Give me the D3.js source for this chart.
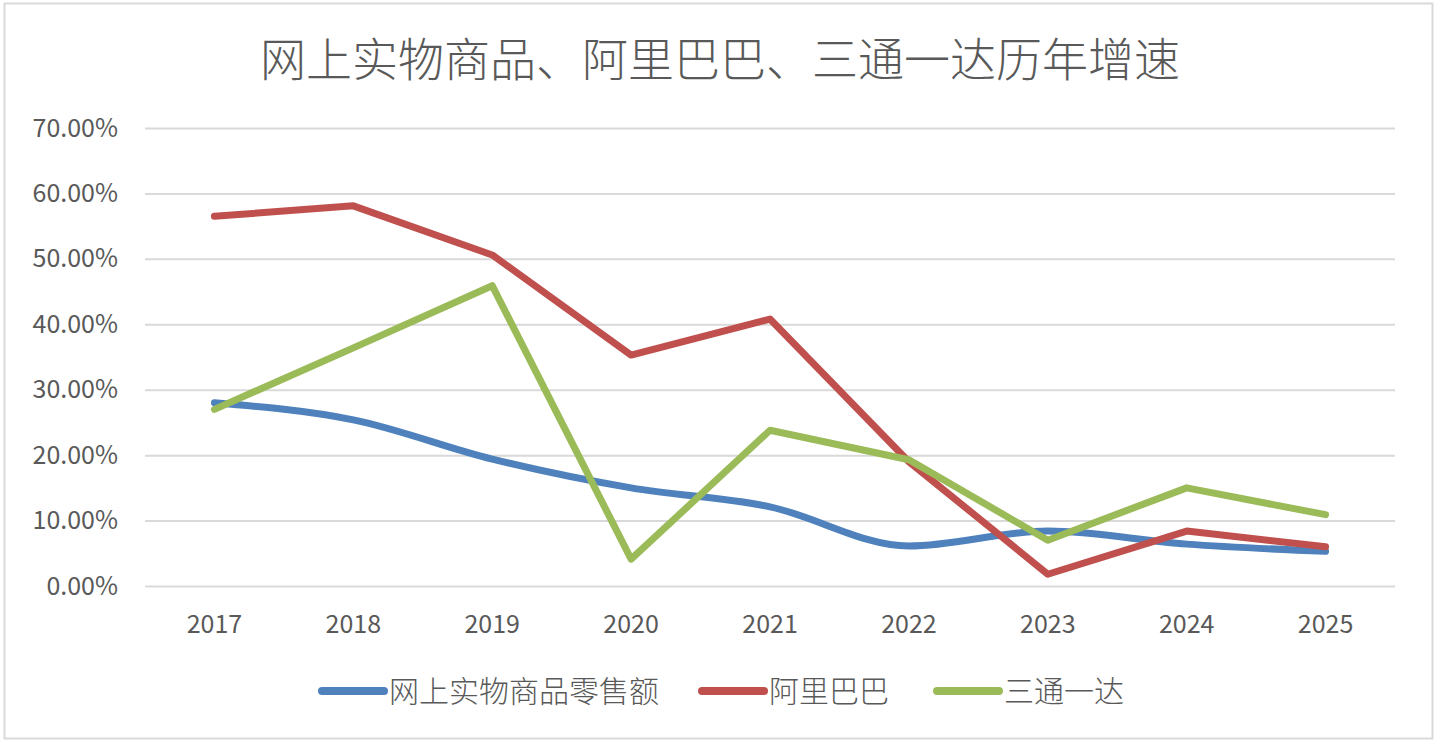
<!DOCTYPE html>
<html>
<head>
<meta charset="utf-8">
<script src="https://cdn.jsdelivr.net/npm/d3@7"></script>
<style>
  html, body { margin: 0; padding: 0; background: #fff; }
  svg text { font-family: "Noto Sans CJK SC", "Noto Sans", sans-serif; fill: #595959; }
</style>
</head>
<body>
<div id="chart"></div>
<script>
// data
const years = ["2017", "2018", "2019", "2020", "2021", "2022", "2023", "2024", "2025"];
const seriesNames = ["网上实物商品零售额", "阿里巴巴", "三通一达"];
const onlineRetail = [0.280, 0.254, 0.194, 0.150, 0.121, 0.061, 0.084, 0.064, 0.053];
const alibaba = [0.565, 0.581, 0.506, 0.353, 0.408, 0.190, 0.018, 0.084, 0.060];
const tongda = [0.270, 0.364, 0.459, 0.041, 0.238, 0.193, 0.070, 0.150, 0.109];
const yTicks = [0, 0.1, 0.2, 0.3, 0.4, 0.5, 0.6, 0.7];
const title = "网上实物商品、阿里巴巴、三通一达历年增速";

const colors = ["#4F81BD", "#C0504D", "#9BBB59"];
const allSeries = [onlineRetail, alibaba, tongda];

const w = 1440, h = 744;
const plotL = 145, plotR = 1395, plotT = 128, plotB = 586;

const svg = d3.select("#chart")
              .append("svg")
              .attr("width", w)
              .attr("height", h);

// outer frame
svg.append("rect")
   .attr("x", 4.5).attr("y", 3.5)
   .attr("width", 1428).attr("height", 735)
   .attr("fill", "#fff")
   .attr("stroke", "#D9D9D9")
   .attr("stroke-width", 2);

svg.append("text")
   .attr("x", 720).attr("y", 76)
   .attr("text-anchor", "middle")
   .style("font-size", "46px")
   .style("font-weight", 300)
   .text(title);

const xScale = d3.scaleBand()
                 .domain(years)
                 .range([plotL, plotR]);

const yScale = d3.scaleLinear()
                 .domain([0, 0.7])
                 .range([plotB, plotT]);

// gridlines + y labels
const yAxis = d3.axisLeft(yScale)
                .tickValues(yTicks)
                .tickFormat(d3.format(".2%"))
                .tickSize(-(plotR - plotL))
                .tickPadding(27);
const gy = svg.append("g")
              .attr("transform", "translate(" + plotL + ",0)")
              .call(yAxis);
gy.select(".domain").remove();
gy.selectAll(".tick line").attr("stroke", "#D9D9D9").attr("stroke-width", 2);
gy.selectAll(".tick text").style("font-size", "25px").attr("fill", "#595959");

// x labels
const xAxis = d3.axisBottom(xScale).tickSize(0).tickPadding(29);
const gx = svg.append("g")
              .attr("transform", "translate(0," + plotB + ")")
              .call(xAxis);
gx.select(".domain").remove();
gx.selectAll(".tick text").style("font-size", "25px").attr("fill", "#595959");

// lines
const cx = (d, i) => xScale(years[i]) + xScale.bandwidth() / 2;
allSeries.forEach((vals, k) => {
  const line = d3.line()
                 .x((d, i) => cx(d, i))
                 .y(d => yScale(d))
                 .curve(k === 0 ? d3.curveMonotoneX : d3.curveLinear);
  svg.append("path")
     .datum(vals)
     .attr("fill", "none")
     .attr("stroke", colors[k])
     .attr("stroke-width", 7)
     .attr("stroke-linejoin", "round")
     .attr("stroke-linecap", "round")
     .attr("d", line);
});

// legend
const legendX = [322, 702, 937];
const legend = svg.append("g");
seriesNames.forEach((name, k) => {
  legend.append("line")
        .attr("x1", legendX[k]).attr("x2", legendX[k] + 62)
        .attr("y1", 691).attr("y2", 691)
        .attr("stroke", colors[k])
        .attr("stroke-width", 8)
        .attr("stroke-linecap", "round");
  legend.append("text")
        .attr("x", legendX[k] + 67).attr("y", 702)
        .style("font-size", "30px")
        .style("font-weight", 300)
        .text(name);
});
</script>
</body>
</html>
